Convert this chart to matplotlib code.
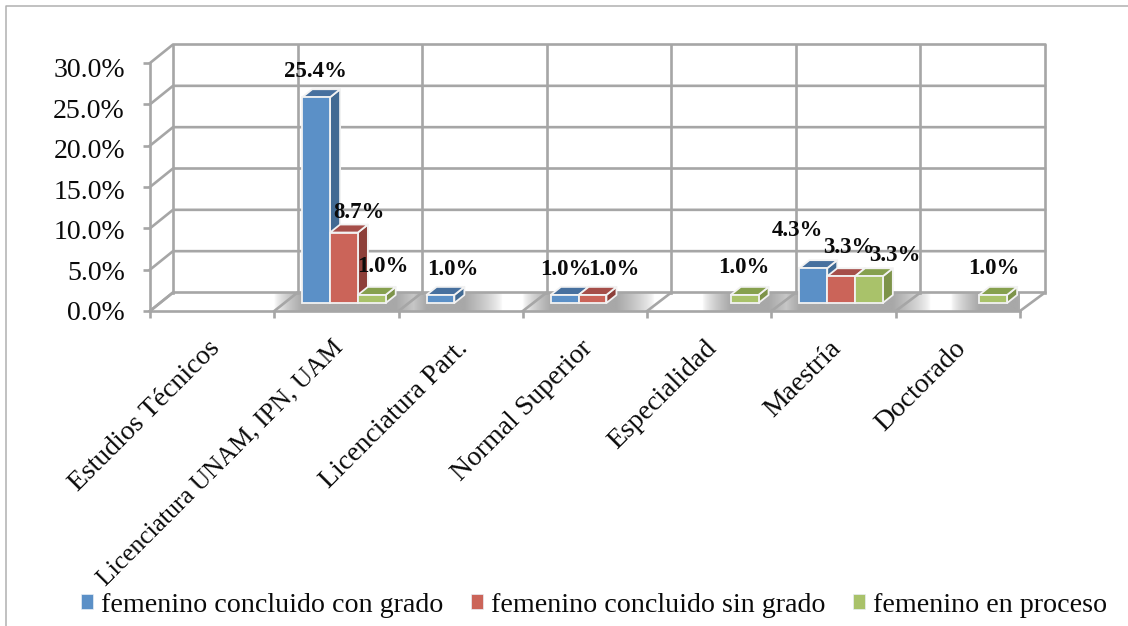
import matplotlib
matplotlib.use("Agg")
import matplotlib.pyplot as plt
import numpy as np
from matplotlib.patches import Polygon, Patch
from matplotlib.lines import Line2D
from matplotlib.colors import LinearSegmentedColormap

categories = ["Estudios Técnicos", "Licenciatura UNAM, IPN, UAM", "Licenciatura Part.",
              "Normal Superior", "Especialidad", "Maestría", "Doctorado"]
series_names = ["femenino concluido con grado", "femenino concluido sin grado", "femenino en proceso"]
con_grado = [0, 25.4, 1.0, 1.0, 0, 4.3, 0]
sin_grado = [0, 8.7, 0, 1.0, 0, 3.3, 0]
en_proceso = [0, 1.0, 0, 0, 1.0, 3.3, 1.0]
y_ticks = [0, 5, 10, 15, 20, 25, 30]

front = ["#5B90C7", "#CB6459", "#A9C26A"]
top = ["#47709E", "#A54E49", "#86A04E"]
side = ["#416A93", "#8D3F39", "#7D9349"]
GRID = "#A6A6A6"
SERIF = "Liberation Serif"
TXT = "#0A0A0A"

W, H = 1128, 626
fig = plt.figure(figsize=(W / 100, H / 100), dpi=100)
L, R, T, B = 150, 1020, 63, 311
ax = fig.add_axes([L / W, 1 - B / H, (R - L) / W, (B - T) / H])
ax.set_xlim(0, 7)
ax.set_ylim(0, 30)
px = 7 / (R - L)      # data units per pixel, x
py = 30 / (B - T)     # data units per pixel, y
BDX, BDY = 23 * px, 18.5 * py   # wall depth
BSC = 872 / 870                 # back wall is slightly wider
DX, DY = 10 * px, 8 * py        # bar depth
BASE = 8 * py
SC = 0.98
BW = 27.8 * px
OFF = 28 * px


def back(i):
    return i * BSC + BDX


lw = 1.9
kw = dict(color=GRID, lw=lw, clip_on=False, zorder=2, solid_capstyle="projecting")
# back wall, left wall, floor
for v in y_ticks:
    ax.plot([0, back(0), back(7)], [v, v + BDY, v + BDY], **kw)
for i in range(8):
    ax.plot([back(i), back(i)], [BDY, 30 + BDY], **kw)
    ax.plot([i, back(i)], [0, BDY], **kw)
ax.plot([0, 0], [0, 30], **kw)

# soft floor shadow around the bars
xs = np.linspace(0, 7 + 2 * BDX, 2000)
prof = np.zeros_like(xs)
for s, vals in enumerate([con_grado, sin_grado, en_proceso]):
    for i, v in enumerate(vals):
        if v == 0:
            continue
        x0 = i + OFF + s * BW
        x1 = x0 + BW + DX
        fade_l, fade_r = 28 * px, 38 * px
        p = np.minimum(np.clip((xs - (x0 - fade_l)) / fade_l, 0, 1),
                       np.clip(((x1 + fade_r) - xs) / fade_r, 0, 1))
        prof = np.maximum(prof, p ** 0.7)
cmap = LinearSegmentedColormap.from_list("s", ["#FFFFFF", "#A8A8A8"])
floor = Polygon([(0, 0), (7, 0), (back(7), BDY), (back(0), BDY)], transform=ax.transData, fc="none", ec="none")
ax.add_patch(floor)
im = ax.imshow(prof.reshape(1, -1), extent=(xs[0], xs[-1], 0, BDY), cmap=cmap, vmin=0, vmax=1,
               aspect="auto", zorder=1, interpolation="bilinear")
im.set_clip_path(floor)
ax.set_xlim(0, 7)
ax.set_ylim(0, 30)

# bars
for s, vals in enumerate([con_grado, sin_grado, en_proceso]):
    z = 3 + s
    for i, v in enumerate(vals):
        if v == 0:
            continue
        h = v * SC
        x0 = i + OFF + s * BW
        x1 = x0 + BW
        y0 = BASE
        y1 = BASE + h
        ek = dict(ec="#F2F2F2", lw=1.3, clip_on=False, zorder=z, joinstyle="round")
        ax.add_patch(Polygon([(x1, y0), (x1 + DX, y0 + DY), (x1 + DX, y1 + DY), (x1, y1)], fc=side[s], **ek))
        ax.add_patch(Polygon([(x0, y1), (x1, y1), (x1 + DX, y1 + DY), (x0 + DX, y1 + DY)], fc=top[s], **ek))
        ax.bar(x0, h, BW, bottom=y0, align="edge", color=front[s], edgecolor="#F2F2F2",
               linewidth=1.3, clip_on=False, zorder=z)

# data labels: (series, category) -> pixel offset of text centre from bar front-top centre
label_offsets = {(0, 1): (-1, 26), (1, 1): (15, 20), (2, 1): (11, 28),
                 (0, 2): (12, 25), (0, 3): (1, 25), (1, 3): (21, 25),
                 (2, 4): (-1, 27), (0, 5): (-16, 38), (1, 5): (8, 29), (2, 5): (26, 21),
                 (2, 6): (1, 26)}
for s, vals in enumerate([con_grado, sin_grado, en_proceso]):
    for i, v in enumerate(vals):
        if v == 0:
            continue
        ox, oy = label_offsets[(s, i)]
        ax.annotate(f"{v:.1f}%", (i + OFF + s * BW + BW / 2, BASE + v * SC), xytext=(ox, oy),
                    textcoords="offset pixels", ha="center", va="center", fontsize=16.5,
                    fontweight="bold", family=SERIF, color=TXT, zorder=10, annotation_clip=False)

# axes ticks: marks on the major ticks, labels on slightly tighter minor ticks as in the reference
for sp in ax.spines.values():
    sp.set_visible(False)
ax.patch.set_alpha(0)
ax.plot([0, 7], [0, 0], **{**kw, "zorder": 2})
ax.set_yticks(y_ticks)
ax.set_yticklabels([])
ax.tick_params(axis="y", which="major", length=5, width=lw, color=GRID)
ax.set_yticks([v * (1 - 4.5 / 248) + 1e-3 for v in y_ticks], minor=True)
ax.set_yticklabels([f"{v:.1f}%" for v in y_ticks], minor=True, fontsize=20, family=SERIF, color=TXT)
ax.tick_params(axis="y", which="minor", length=0, pad=18)
ax.set_xticks(range(8))
ax.set_xticklabels([])
ax.tick_params(axis="x", which="major", length=5, width=lw, color=GRID)
ax.set_xticks(np.arange(7) + 0.5 - 5 * px, minor=True)
labs = ax.set_xticklabels(categories, minor=True, rotation=45, ha="right", va="top",
                          rotation_mode="anchor", fontsize=20, family=SERIF, color=TXT)
labs[1].set_fontsize(18.4)
ax.tick_params(axis="x", which="minor", length=0, pad=18)

# legend
handles = [Patch(fc=c, ec="#E8EEF6", lw=0.5, label=n) for c, n in zip(front, series_names)]
fig.legend(handles=handles, loc="center", bbox_to_anchor=(594 / W, 1 - 605 / H), ncol=3, frameon=False,
           prop={"family": SERIF, "size": 20.2}, labelcolor=TXT, handlelength=0.43, handleheight=0.43,
           handletextpad=0.29, columnspacing=0.97, borderpad=0, borderaxespad=0)

# outer frame of the embedded chart
fig.add_artist(Line2D([5.5 / W, 5.5 / W, 1], [0, 1 - 5.5 / H, 1 - 5.5 / H], color="#B0B0B0", lw=1.1))

fig.savefig("out.png", dpi=100)
